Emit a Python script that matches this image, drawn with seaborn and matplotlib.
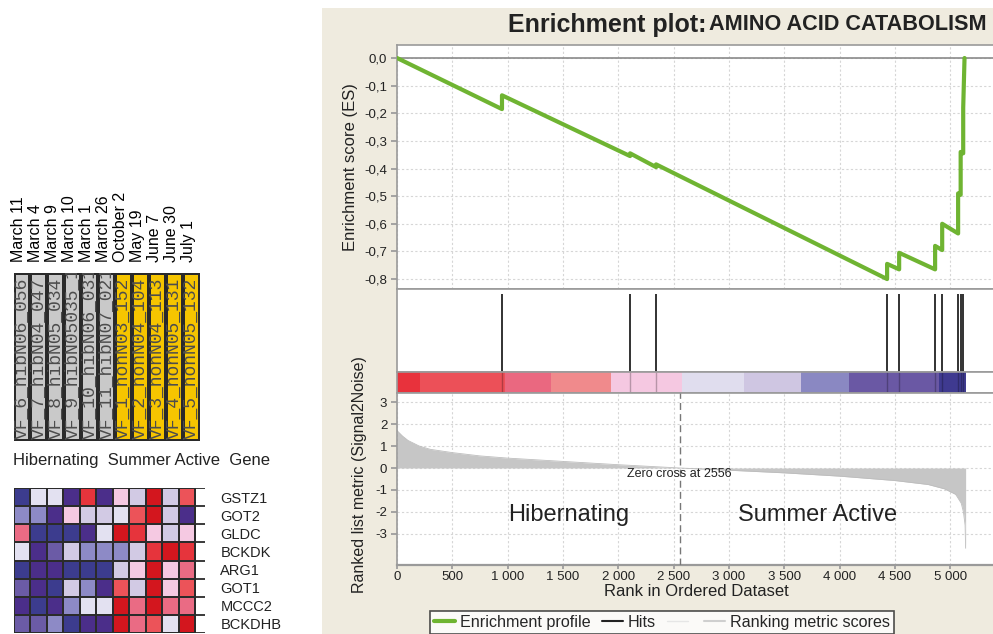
# plot.py
# GSEA enrichment figure: leading-edge heatmap (left) + enrichment plot (right)

import matplotlib
matplotlib.use("Agg")
import numpy as np
import pandas as pd
import matplotlib.pyplot as plt
from matplotlib.colors import ListedColormap
from matplotlib.lines import Line2D
from matplotlib.patches import Rectangle
import seaborn as sns

# === Data: leading-edge heatmap ===
dates = ["March 11", "March 4", "March 9", "March 10", "March 1", "March 26",
         "October 2", "May 19", "June 7", "June 30", "July 1"]
samples = ["VF_6_hibN06_056", "VF_7_hibN04_047", "VF_8_hibN05_034", "VF_9_hibN05035_1",
           "VF_10_hibN06_031", "VF_11_hibN07_021", "VF_1_nonN03_152", "VF_2_nonN04_104",
           "VF_3_nonN04_113", "VF_4_nonN05_131", "VF_5_nonN05_132"]
sample_group = [0, 0, 0, 0, 0, 0, 1, 1, 1, 1, 1]   # 0 = hibernating, 1 = summer active
genes = ["GSTZ1", "GOT2", "GLDC", "BCKDK", "ARG1", "GOT1", "MCCC2", "BCKDHB"]
# expression level, 0 = lowest (blue) ... 10 = highest (red)
expr_levels = [
    [0, 5, 5, 1, 9, 1, 6, 4, 10, 4, 8],
    [3, 3, 1, 6, 4, 4, 5, 8, 10, 4, 1],
    [7, 0, 0, 0, 1, 5, 10, 9, 6, 4, 6],
    [5, 1, 2, 4, 3, 3, 3, 4, 9, 10, 9],
    [0, 1, 1, 0, 0, 0, 4, 6, 10, 6, 7],
    [2, 1, 0, 4, 3, 1, 8, 4, 10, 6, 8],
    [1, 0, 1, 3, 5, 5, 10, 7, 10, 7, 7],
    [2, 2, 3, 0, 1, 1, 10, 7, 8, 5, 10],
]
level_colors = ["#3c3c8e", "#4b2e8a", "#6b5ba6", "#8d8ac6", "#d2cae4", "#e3e1f1",
                "#f5c9e2", "#ea6b84", "#ec5359", "#e6343c", "#d3161e"]

# === Data: enrichment plot ===
es_rank = [0, 949, 949, 2107, 2107, 2342, 2342, 4430, 4430, 4539, 4539, 4864, 4864,
           4928, 4928, 5072, 5072, 5095, 5095, 5118, 5118, 5130]
es_score = [0.0, -0.185, -0.135, -0.355, -0.345, -0.395, -0.385, -0.80, -0.745, -0.765,
            -0.705, -0.765, -0.68, -0.695, -0.60, -0.635, -0.49, -0.495, -0.34, -0.345,
            -0.18, 0.0]
hit_ranks = [949, 2107, 2342, 4430, 4539, 4864, 4928, 5072, 5095, 5118]
metric_rank = [0, 50, 100, 200, 300, 500, 750, 1000, 1500, 2000, 2556, 3000, 3500,
               4000, 4500, 4800, 4950, 5050, 5100, 5120, 5135, 5140]
metric_value = [1.7, 1.45, 1.25, 1.0, 0.85, 0.7, 0.55, 0.45, 0.3, 0.15, 0.0, -0.1, -0.22,
                -0.37, -0.57, -0.75, -0.95, -1.2, -1.6, -2.0, -2.6, -3.65]
zero_cross = 2556
cbar_edges = [0, 208, 973, 1393, 1935, 2573, 3139, 3654, 4088, 4897, 5140]
cbar_colors = ["#e8323c", "#ec5058", "#ea6880", "#f08a8c", "#f5c8e1",
               "#e0ddee", "#cfc6e2", "#8a88c2", "#6a58a4", "#3f3a90"]
rank_ticks = [0, 500, 1000, 1500, 2000, 2500, 3000, 3500, 4000, 4500, 5000]
rank_tick_labels = ["0", "500", "1 000", "1 500", "2 000", "2 500", "3 000",
                    "3 500", "4 000", "4 500", "5 000"]
es_ticks = [0.0, -0.1, -0.2, -0.3, -0.4, -0.5, -0.6, -0.7, -0.8]
es_tick_labels = ["0,0", "-0,1", "-0,2", "-0,3", "-0,4", "-0,5", "-0,6", "-0,7", "-0,8"]
metric_ticks = [3, 2, 1, 0, -1, -2, -3]
metric_tick_labels = ["3", "2", "1", "0", "-1", "-2", "-3"]

# === Style ===
W, H = 993, 634
sns.set_theme(style="white")
plt.rcParams["font.family"] = ["Liberation Sans", "DejaVu Sans"]
TXT = "#222222"
FRAME = "#9a9a9a"
GRID = "#d6d6d6"
GREEN = "#6fb432"

fig = plt.figure(figsize=(W / 100, H / 100), dpi=100)
fig.patch.set_facecolor("white")


def box(left, top, right, bottom):
    # axes placed by pixel edges of the 993x634 canvas
    return fig.add_axes([left / W, 1 - bottom / H, (right - left) / W, (bottom - top) / H])


# beige panel behind the GSEA plot
fig.add_artist(Rectangle((322 / W, 0), 1 - 322 / W, 1 - 8 / H, transform=fig.transFigure,
                         facecolor="#efebdf", edgecolor="none", zorder=-10))

# === Sample strip with date labels ===
ax_s = box(13.5, 273, 200, 441)
sns.heatmap(pd.DataFrame([sample_group]), cmap=ListedColormap(["#c9c9c9", "#f6c500"]),
            vmin=0, vmax=1, cbar=False, linewidths=1.6, linecolor="#2a2a2a", ax=ax_s)
ax_s.xaxis.tick_top()
ax_s.set_xticks(np.arange(len(dates)) + 0.3)
ax_s.set_xticklabels(dates, rotation=90, fontsize=11.5, color="black")
ax_s.set_yticks([])
ax_s.tick_params(axis="x", length=0, pad=8)
for i, s in enumerate(samples):
    ax_s.text(i + 0.5, 0.99, s, rotation=90, ha="center", va="bottom", fontsize=13,
              family="Liberation Mono", color="#4d4d4d", clip_on=True)

fig.text(13 / W, 1 - 461 / H, "Hibernating  Summer Active  Gene", fontsize=12,
         color=TXT, va="center", ha="left")

# === Leading-edge heatmap ===
ax_h = box(13.5, 488, 205, 633)
sns.heatmap(pd.DataFrame(expr_levels, index=genes), cmap=ListedColormap(level_colors),
            vmin=-0.5, vmax=10.5, cbar=False, linewidths=1.3, linecolor="#2b2b2b", ax=ax_h)
ax_h.set_xlim(0, 11.6)
ax_h.hlines(range(len(genes) + 1), 11, 11.6, color="#2b2b2b", lw=1.3)
ax_h.set_xticks([])
ax_h.yaxis.tick_right()
ax_h.set_yticks(np.arange(len(genes)) + 0.5)
ax_h.set_yticklabels(genes, rotation=0, fontsize=10.5, color=TXT)
ax_h.tick_params(axis="y", length=0, pad=11)

# === Enrichment plot ===
xmax = (993 - 397) / 0.11063
ax_es = box(397, 45, 993, 289)
ax_hit = box(397, 289, 993, 372)
ax_bar = box(397, 372, 993, 393)
ax_met = box(397, 393, 993, 565)

for ax in (ax_es, ax_hit, ax_bar, ax_met):
    ax.set_xlim(0, xmax)
    ax.set_facecolor("white")
    for sp in ax.spines.values():
        sp.set_color(FRAME)
        sp.set_linewidth(1.2)
    ax.spines["right"].set_visible(False)

# running enrichment score
ax_es.set_ylim(-0.836, 0.047)
ax_es.set_xticks(rank_ticks)
ax_es.set_yticks(es_ticks)
ax_es.set_yticklabels(es_tick_labels, fontsize=9.5, color=TXT)
ax_es.set_xticklabels([])
ax_es.tick_params(axis="x", length=0)
ax_es.tick_params(axis="y", length=4, color=FRAME, pad=3, left=True)
ax_es.grid(True, color=GRID, linestyle=(0, (2, 2)), lw=0.8)
ax_es.axhline(0, color="#8a8a8a", lw=1.2, zorder=1)
sns.lineplot(x=es_rank, y=es_score, sort=False, estimator=None, color=GREEN, lw=3,
             ax=ax_es, zorder=3)
ax_es.set_ylabel("Enrichment score (ES)", fontsize=12, color=TXT)
ax_es.yaxis.set_label_coords((358 - 397) / 596, 0.5)
ax_es.set_xlabel("")

# hits
ax_hit.set_ylim(0, 1)
ax_hit.set_xticks([])
ax_hit.set_yticks([])
ax_hit.vlines(hit_ranks, 0, 0.94, color="#222222", lw=1.3)

# ranked-list colour bar
ax_bar.set_ylim(0, 1)
ax_bar.bar(cbar_edges[:-1], 1, width=np.diff(cbar_edges), align="edge",
           color=cbar_colors, lw=0)
ax_bar.vlines(hit_ranks, 0, 1, color="black", alpha=0.25, lw=1)
ax_bar.set_xticks([])
ax_bar.set_yticks([])

# ranked list metric
ax_met.set_ylim(-4.41, 3.41)
ax_met.fill_between(metric_rank, metric_value, 0, color="#c6c6c6", lw=0, zorder=2)
sns.lineplot(x=metric_rank, y=metric_value, color="#bdbdbd", lw=0.6, ax=ax_met, zorder=2)
ax_met.axvline(zero_cross, color="#777777", ls=(0, (5, 3)), lw=1, zorder=3)
ax_met.grid(True, color=GRID, linestyle=(0, (2, 2)), lw=0.8)
ax_met.set_xticks(rank_ticks)
ax_met.set_xticklabels(rank_tick_labels, fontsize=9.5, color=TXT)
ax_met.set_yticks(metric_ticks)
ax_met.set_yticklabels(metric_tick_labels, fontsize=9.5, color=TXT)
ax_met.tick_params(axis="y", length=4, color=FRAME, pad=3, left=True)
ax_met.tick_params(axis="x", length=3, color=FRAME, pad=1.5, bottom=True)
ax_met.spines["bottom"].set_linewidth(1.6)
ax_met.text(zero_cross, -0.28, "Zero cross at 2556", fontsize=9, color=TXT,
            ha="center", va="center", zorder=4)
ax_met.text(1555, -2.14, "Hibernating", fontsize=17, color=TXT, ha="center", va="center")
ax_met.text(3806, -2.14, "Summer Active", fontsize=17, color=TXT, ha="center", va="center")
ax_met.set_xlabel("Rank in Ordered Dataset", fontsize=12, color=TXT)
ax_met.xaxis.set_label_coords(0.503, (565 - 584) / 172)
ax_met.set_ylabel("Ranked list metric (Signal2Noise)", fontsize=11.5, color=TXT)
ax_met.yaxis.set_label_coords((367 - 397) / 596, (565 - 475) / 172)

# title
fig.text(508 / W, 1 - 25 / H, "Enrichment plot:", fontsize=18, fontweight="bold",
         color=TXT, va="center", ha="left")
fig.text(709 / W, 1 - 25 / H, "AMINO ACID CATABOLISM", fontsize=15.6, fontweight="bold",
         color=TXT, va="center", ha="left")

# legend
handles = [Line2D([], [], color=GREEN, lw=3),
           Line2D([], [], color="#222222", lw=1.5),
           Line2D([], [], color="#e6e6e6", lw=1),
           Line2D([], [], color="#cfcfcf", lw=1.5)]
labels = ["Enrichment profile", "Hits", "", "Ranking metric scores"]
leg = fig.legend(handles, labels, loc="upper left", bbox_to_anchor=(430 / W, 1 - 611 / H),
                 ncol=4, frameon=True, fancybox=False, edgecolor="#222222", fontsize=11.6,
                 handlelength=1.3, handletextpad=0.3, columnspacing=0.7, borderpad=0.25,
                 borderaxespad=0)
leg.get_frame().set_linewidth(1.2)
leg.get_frame().set_facecolor("white")

fig.savefig("out.png", dpi=100)
